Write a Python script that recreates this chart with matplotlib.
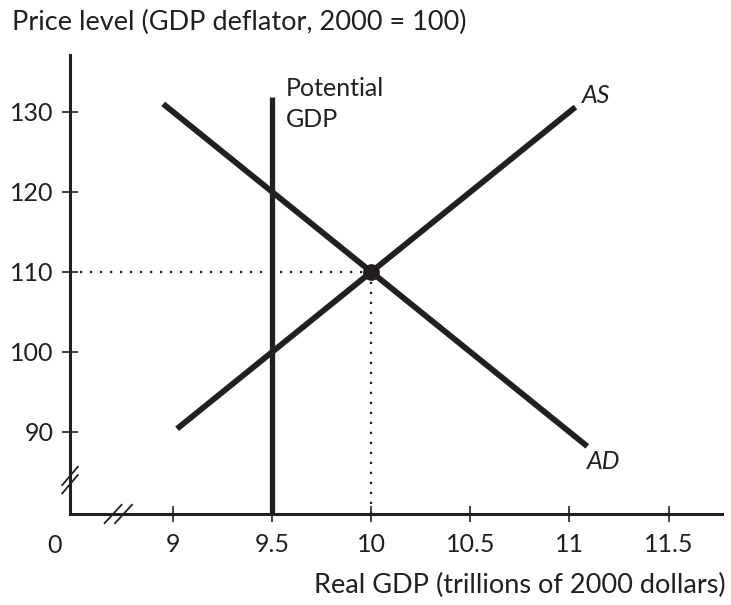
import numpy as np
import matplotlib.pyplot as plt

plt.rcParams['font.family'] = ['Lato', 'DejaVu Sans']

# data
as_x = [9.02, 11.03]
as_y = [90.4, 130.6]
ad_x = [8.95, 11.09]
ad_y = [131.0, 88.2]
potential_gdp = 9.5
pot_top = 131.9
eq_x, eq_y = 10, 110
xticks = [9, 9.5, 10, 10.5, 11, 11.5]
xtick_labels = ['9', '9.5', '10', '10.5', '11', '11.5']
yticks = [90, 100, 110, 120, 130]

fs = 18
fig = plt.figure(figsize=(7.31, 6.05), dpi=100)
ax = fig.add_axes([0.0958, 0.1504, 0.892, 0.7586])
ax.set_xlim(8.48, 11.77)
ax.set_ylim(79.75, 137.1)

ink = '#231f20'
ax.plot(as_x, as_y, color=ink, lw=4.2, solid_capstyle='butt')
ax.plot(ad_x, ad_y, color=ink, lw=4.2, solid_capstyle='butt')
ax.plot([potential_gdp, potential_gdp], [79.75, pot_top], color=ink, lw=3.8,
        solid_capstyle='butt')
ax.plot([8.48, eq_x], [eq_y, eq_y], color=ink, lw=1.6, ls=(0, (1, 3.5)))
ax.plot([eq_x, eq_x], [79.75, eq_y], color=ink, lw=1.6, ls=(0, (1, 3.5)))
ax.plot([eq_x], [eq_y], 'o', color=ink, ms=11)

for s in ['top', 'right']:
    ax.spines[s].set_visible(False)
for s in ['left', 'bottom']:
    ax.spines[s].set_color(ink)
    ax.spines[s].set_linewidth(2.2)

ax.set_xticks(xticks)
ax.set_xticklabels(xtick_labels)
ax.set_yticks(yticks)
ax.tick_params(direction='inout', length=12, width=1.2, color=ink,
               labelsize=fs, labelcolor=ink)
ax.tick_params(axis='x', pad=8)
ax.tick_params(axis='y', pad=6)

ax.text(9.57, 134.3, 'Potential\nGDP', fontsize=fs, color=ink,
        va='top', ha='left', linespacing=1.4)
ax.text(11.06, 130.6, 'AS', fontsize=fs, color=ink, style='italic',
        ha='left', va='bottom')
ax.text(11.09, 87.8, 'AD', fontsize=fs, color=ink, style='italic',
        ha='left', va='top')

# axis break marks
tr = ax.transAxes
for dy in [0, 0.018]:
    ax.plot([-0.012, 0.012], [0.065 + dy - 0.02, 0.065 + dy + 0.02],
            color=ink, lw=1.3, transform=tr, clip_on=False)
for dx in [0, 0.016]:
    ax.plot([0.066 + dx - 0.013, 0.066 + dx + 0.013], [-0.02, 0.02],
            color=ink, lw=1.3, transform=tr, clip_on=False)

fig.text(0.0164, 0.963, 'Price level (GDP deflator, 2000 = 100)',
         fontsize=19.5, color=ink, ha='left', va='center')
fig.text(0.0752, 0.099, '0', fontsize=fs, color=ink, ha='center', va='center')
fig.text(0.992, 0.033, 'Real GDP (trillions of 2000 dollars)',
         fontsize=19.5, color=ink, ha='right', va='center')

fig.savefig('out.png', dpi=100)
